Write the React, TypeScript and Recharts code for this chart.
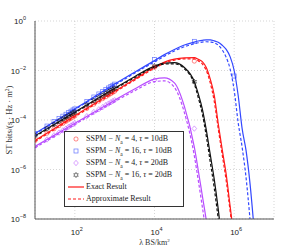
import { ComposedChart, Line, Scatter, XAxis, YAxis, CartesianGrid } from 'recharts';

// lambda grid for the analytic curves (BS/km^2)
const LAMBDA = [
  10, 31.6, 100, 316, 1000, 3162, 10000, 17783, 31623, 56234, 100000, 125893, 158489, 199526,
  251189, 316228, 398107, 501187, 630957, 794328, 1000000, 1258925, 1584893, 1995262, 2511886,
  3162278,
];

// exact / approximate spectral throughput
const RED_EXACT = [1.48e-5, 4.68e-5, 1.48e-4, 4.68e-4, 1.45e-3, 4.47e-3, 1.35e-2, 2.19e-2, 2.88e-2, 3.24e-2, 3.31e-2, 2.82e-2, 2.29e-2, 1.32e-2, 4.47e-3, 1e-3, 7.08e-5, 6.31e-6, 6.31e-7, 3.16e-8, 1.58e-9];
const RED_APPROX = [1.35e-5, 4.27e-5, 1.35e-4, 4.27e-4, 1.32e-3, 4.07e-3, 1.23e-2, 2e-2, 2.63e-2, 2.95e-2, 2.95e-2, 2.45e-2, 1.86e-2, 1e-2, 3.16e-3, 5.62e-4, 4.47e-5, 3.98e-6, 3.55e-7, 2e-8, 1e-9];
const BLUE_EXACT = [2.88e-5, 8.91e-5, 2.82e-4, 8.91e-4, 2.82e-3, 8.51e-3, 2.51e-2, 4.37e-2, 7.08e-2, 0.107, 0.141, 0.155, 0.166, 0.174, 0.174, 0.158, 0.138, 0.105, 7.08e-2, 3.55e-2, 1e-2, 1e-3, 4.47e-5, 5.62e-6, 2.51e-7, 3.98e-9];
const BLUE_APPROX = [2.69e-5, 8.32e-5, 2.63e-4, 8.32e-4, 2.57e-3, 7.76e-3, 2.24e-2, 3.8e-2, 6.17e-2, 9.12e-2, 0.12, 0.132, 0.141, 0.145, 0.141, 0.132, 0.105, 6.76e-2, 3.39e-2, 1.12e-2, 1.58e-3, 7.94e-5, 7.94e-6, 4.47e-7, 8.91e-9, 1e-10];
const PURPLE_EXACT = [8.51e-6, 2.51e-5, 7.41e-5, 2.14e-4, 6.31e-4, 1.78e-3, 4.47e-3, 5.01e-3, 3.16e-3, 3.55e-4, 7.94e-6, 8.91e-7, 8.91e-8, 8.91e-9, 6.31e-10];
const PURPLE_APPROX = [7.59e-6, 2.24e-5, 6.61e-5, 1.91e-4, 5.5e-4, 1.51e-3, 3.55e-3, 3.8e-3, 2.09e-3, 2e-4, 3.55e-6, 3.55e-7, 3.16e-8, 2.51e-9];
const BLACK_EXACT = [2.29e-5, 6.92e-5, 2.09e-4, 6.31e-4, 1.91e-3, 5.62e-3, 1.51e-2, 2e-2, 2.09e-2, 1.32e-2, 3.55e-3, 1.12e-3, 2.82e-4, 3.98e-5, 3.98e-6, 3.98e-7, 2.51e-8, 1e-9];
const BLACK_APPROX = [2.14e-5, 6.46e-5, 1.95e-4, 5.89e-4, 1.78e-3, 5.13e-3, 1.38e-2, 1.82e-2, 1.86e-2, 1.17e-2, 2.82e-3, 7.94e-4, 1.78e-4, 2.24e-5, 2e-6, 1.78e-7, 1e-8, 4e-10];

// SSPM simulation points
const SIM_LAMBDA = [10, 20, 30, 40, 50, 60, 70, 80, 90, 100, 200, 300, 400, 500, 600, 700, 800, 900, 1000, 10000, 100000, 1000000];
const RED_SIM = [1.48e-5, 2.95e-5, 4.4e-5, 5.9e-5, 7.3e-5, 8.8e-5, 1.03e-4, 1.17e-4, 1.32e-4, 1.46e-4, 2.92e-4, 4.37e-4, 5.8e-4, 7.3e-4, 8.7e-4, 1.02e-3, 1.16e-3, 1.31e-3, 1.45e-3, 1.35e-2, 2.4e-2];
const BLUE_SIM = [2.88e-5, 5.7e-5, 8.6e-5, 1.15e-4, 1.43e-4, 1.71e-4, 2e-4, 2.27e-4, 2.55e-4, 2.82e-4, 5.65e-4, 8.5e-4, 1.13e-3, 1.41e-3, 1.69e-3, 1.97e-3, 2.25e-3, 2.53e-3, 2.82e-3, 2.75e-2, 0.151, 6e-3];
const PURPLE_SIM = [8.5e-6, 1.63e-5, 2.4e-5, 3.1e-5, 3.8e-5, 4.5e-5, 5.3e-5, 6e-5, 6.7e-5, 7.4e-5, 1.42e-4, 2.1e-4, 2.7e-4, 3.3e-4, 4e-4, 4.6e-4, 5.2e-4, 5.8e-4, 6.3e-4, 4.1e-3, 4.5e-5];
const BLACK_SIM = [2.29e-5, 4.5e-5, 6.6e-5, 8.8e-5, 1.09e-4, 1.3e-4, 1.5e-4, 1.7e-4, 1.9e-4, 2.09e-4, 4.1e-4, 6.1e-4, 8e-4, 9.9e-4, 1.18e-3, 1.37e-3, 1.55e-3, 1.73e-3, 1.91e-3, 1.51e-2, 3.5e-3];

const X_TICKS = [100, 10000, 1000000];
const Y_TICKS = [1, 1e-2, 1e-4, 1e-6, 1e-8];

const RED = '#ff1a1a';
const BLUE = '#3348ff';
const PURPLE = '#b84dff';
const BLACK = '#111111';

const zip = (xs: number[], ys: number[]) => ys.map((y, i) => ({ x: xs[i], y }));

const circle = (color: string) => (p: any) => (
  <circle cx={p.cx} cy={p.cy} r={2.1} fill="none" stroke={color} strokeWidth={0.7} strokeOpacity={0.75} />
);
const square = (color: string) => (p: any) => (
  <rect x={p.cx - 2} y={p.cy - 2} width={4} height={4} fill="none" stroke={color} strokeWidth={0.7} strokeOpacity={0.75} />
);
const diamond = (color: string) => (p: any) => (
  <path d={`M${p.cx},${p.cy - 2.7}L${p.cx + 2.3},${p.cy}L${p.cx},${p.cy + 2.7}L${p.cx - 2.3},${p.cy}Z`} fill="none" stroke={color} strokeWidth={0.7} strokeOpacity={0.75} />
);
const hexagram = (color: string) => (p: any) => {
  const pts: string[] = [];
  for (let i = 0; i < 12; i++) {
    const r = i % 2 === 0 ? 2.6 : 1.4;
    const a = (Math.PI / 6) * i - Math.PI / 2;
    pts.push(`${p.cx + r * Math.cos(a)},${p.cy + r * Math.sin(a)}`);
  }
  return <polygon points={pts.join(' ')} fill="none" stroke={color} strokeWidth={0.7} strokeOpacity={0.75} />;
};

const SERIES = [
  { name: 'red', color: RED, exact: RED_EXACT, approx: RED_APPROX, sim: RED_SIM, shape: circle, na: '4', tau: '10dB' },
  { name: 'blue', color: BLUE, exact: BLUE_EXACT, approx: BLUE_APPROX, sim: BLUE_SIM, shape: square, na: '16', tau: '10dB' },
  { name: 'purple', color: PURPLE, exact: PURPLE_EXACT, approx: PURPLE_APPROX, sim: PURPLE_SIM, shape: diamond, na: '4', tau: '20dB' },
  { name: 'black', color: BLACK, exact: BLACK_EXACT, approx: BLACK_APPROX, sim: BLACK_SIM, shape: hexagram, na: '16', tau: '20dB' },
];

const XTick = ({ x, y, payload }: any) => (
  <text x={x + 2} y={y + 8} textAnchor="middle" fontSize={8} fontFamily="Liberation Sans" fill="#222">
    10<tspan dy={-4} fontSize={5.5}>{Math.round(Math.log10(payload.value))}</tspan>
  </text>
);

const YTick = ({ x, y, payload }: any) => {
  const e = Math.round(Math.log10(payload.value));
  return (
    <text x={x - 1} y={y + 3} textAnchor="end" fontSize={8} fontFamily="Liberation Sans" fill="#222">
      10<tspan dy={-4} fontSize={5.5}>{e === 0 ? '0' : '\u2212' + Math.abs(e)}</tspan>
    </text>
  );
};

const SymbolIcon = ({ kind, color }: { kind: any; color: string }) => (
  <svg width={18} height={10} style={{ display: 'block' }}>
    {kind(color)({ cx: 9, cy: 5 })}
  </svg>
);

const LegendBox = () => (
  <div
    style={{
      position: 'absolute',
      left: 64,
      top: 131,
      border: '1px solid #333',
      background: '#fff',
      fontFamily: 'Liberation Serif',
      fontSize: 8,
      color: '#222',
      padding: '1px 2px 1px 2px',
      lineHeight: '12px',
      width: 114,
      boxSizing: 'content-box',
    }}
  >
    {SERIES.map((s) => (
      <div key={s.name} style={{ display: 'flex', alignItems: 'center', height: 12 }}>
        <SymbolIcon kind={s.shape} color={s.color} />
        <span style={{ whiteSpace: 'nowrap', marginLeft: 1 }}>
          SSPM − <i>N</i>
          <sub style={{ fontSize: 5.5, lineHeight: 0 }}>a</sub> = {s.na}, <i>τ</i> = {s.tau}
        </span>
      </div>
    ))}
    <div style={{ display: 'flex', alignItems: 'center', height: 12 }}>
      <svg width={18} height={10} style={{ display: 'block' }}>
        <line x1={1} x2={17} y1={5} y2={5} stroke={RED} strokeWidth={1.2} />
      </svg>
      <span style={{ marginLeft: 1 }}>Exact Result</span>
    </div>
    <div style={{ display: 'flex', alignItems: 'center', height: 12 }}>
      <svg width={18} height={10} style={{ display: 'block' }}>
        <line x1={1} x2={17} y1={5} y2={5} stroke={RED} strokeWidth={1.2} strokeDasharray="3 2" />
      </svg>
      <span style={{ marginLeft: 1 }}>Approximate Result</span>
    </div>
  </div>
);

export default function App() {
  return (
    <div style={{ position: 'absolute', left: 0, top: 0, width: 291, height: 249 }}>
      <ComposedChart width={291} height={249} margin={{ top: 21, right: 17, bottom: 0, left: 0 }}>
        <CartesianGrid stroke="#bbb" strokeWidth={0.6} strokeDasharray="1 2" />
        <XAxis
          dataKey="x"
          type="number"
          scale="log"
          domain={[10, 10000000]}
          allowDataOverflow
          ticks={X_TICKS}
          interval={0}
          tick={<XTick />}
          tickLine={false}
          axisLine={{ stroke: '#555' }}
          height={30}
          label={{
            content: ({ viewBox }: any) => (
              <text x={viewBox.x + viewBox.width / 2} y={viewBox.y + 26} textAnchor="middle" fontSize={8} fontFamily="Liberation Serif" fill="#333">
                λ BS/km<tspan dy={-3} fontSize={5}>2</tspan>
              </text>
            ),
          }}
        />
        <XAxis xAxisId="top" orientation="top" type="number" dataKey="x" scale="log" domain={[10, 10000000]} allowDataOverflow height={0} tick={false} tickLine={false} axisLine={{ stroke: '#555' }} />
        <YAxis
          type="number"
          scale="log"
          domain={[1e-8, 1]}
          allowDataOverflow
          ticks={Y_TICKS}
          interval={0}
          tick={<YTick />}
          tickLine={false}
          axisLine={{ stroke: '#555' }}
          width={35}
          label={{
            content: ({ viewBox }: any) => {
              const cx = 12;
              const cy = viewBox.y + viewBox.height / 2;
              return (
                <text x={cx} y={cy} transform={`rotate(-90 ${cx} ${cy})`} textAnchor="middle" fontSize={8.5} fontFamily="Liberation Serif" fill="#333">
                  ST bits/(s · Hz · m<tspan dy={-3.5} fontSize={5.5}>2</tspan>
                  <tspan dy={3.5}>)</tspan>
                </text>
              );
            },
          }}
        />
        <YAxis yAxisId="right" orientation="right" type="number" scale="log" domain={[1e-8, 1]} allowDataOverflow width={0} tick={false} tickLine={false} axisLine={{ stroke: '#555' }} />
        {SERIES.map((s) => (
          <Line key={s.name + '-exact'} data={zip(LAMBDA, s.exact)} dataKey="y" type="monotone" stroke={s.color} strokeWidth={1.2} dot={false} isAnimationActive={false} />
        ))}
        {SERIES.map((s) => (
          <Line key={s.name + '-approx'} data={zip(LAMBDA, s.approx)} dataKey="y" type="monotone" stroke={s.color} strokeWidth={1.2} strokeDasharray="3 2" dot={false} isAnimationActive={false} />
        ))}
        {SERIES.map((s) => (
          <Scatter key={s.name + '-sim'} data={zip(SIM_LAMBDA, s.sim)} dataKey="y" shape={s.shape(s.color)} isAnimationActive={false} />
        ))}
      </ComposedChart>
      <LegendBox />
    </div>
  );
}
